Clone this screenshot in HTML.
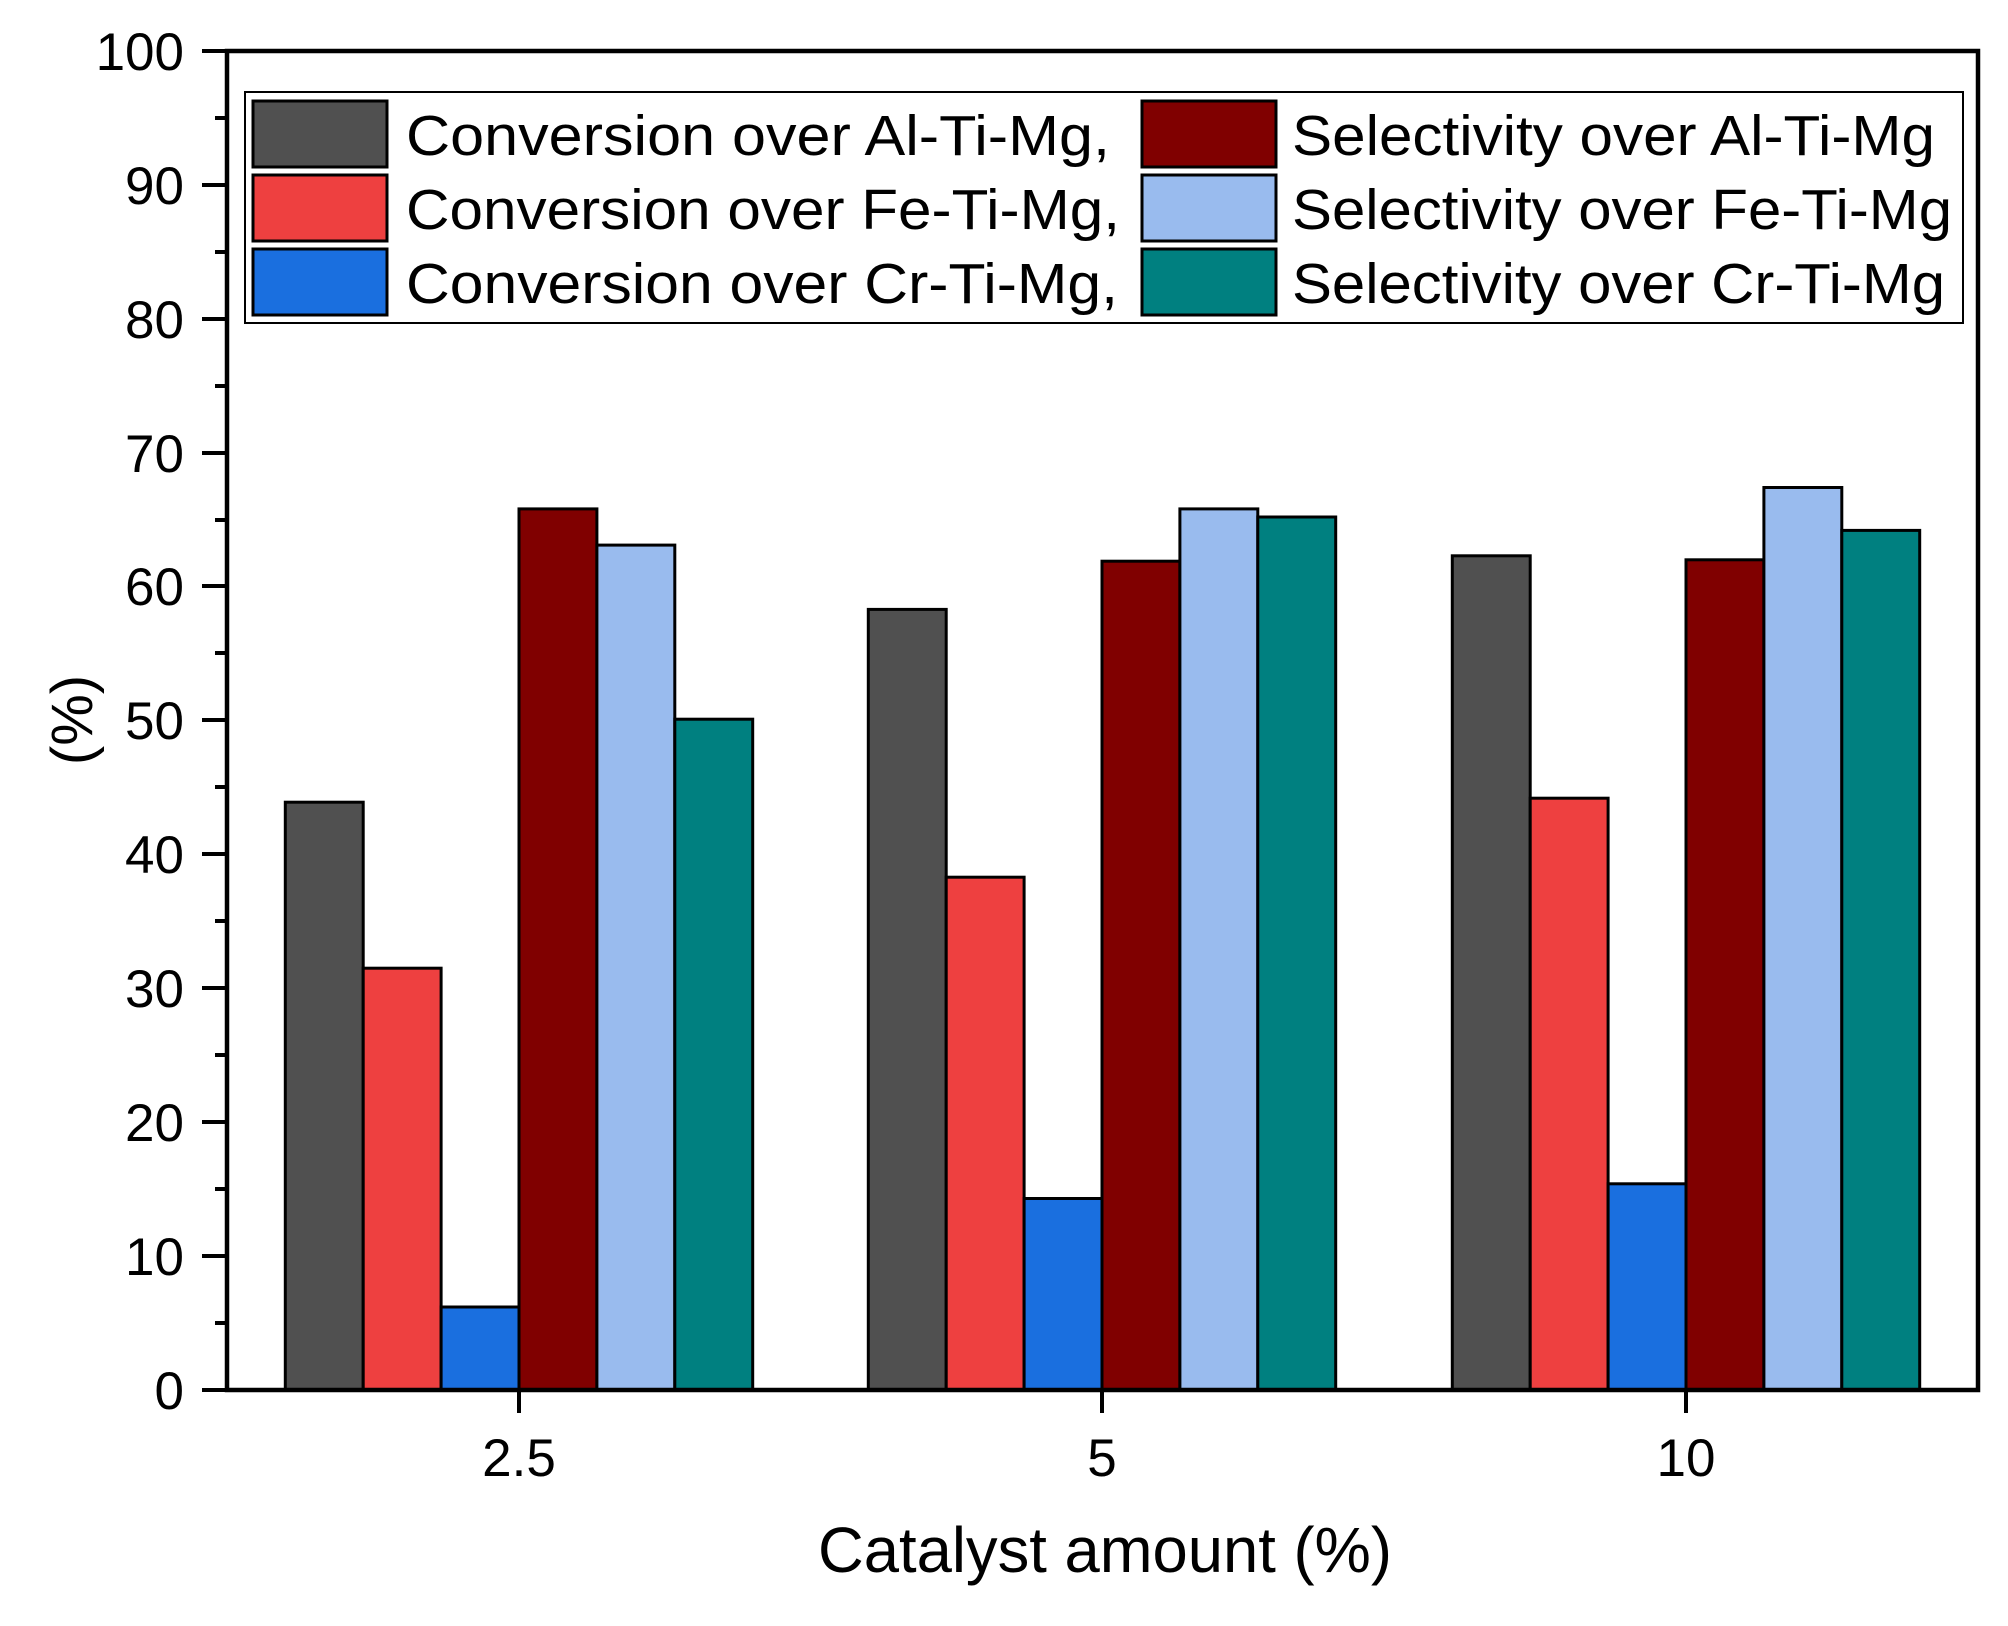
<!DOCTYPE html>
<html><head><meta charset="utf-8"><style>html,body{margin:0;padding:0;background:#fff}svg{display:block}</style></head>
<body>
<svg width="2008" height="1626" viewBox="0 0 2008 1626" xmlns="http://www.w3.org/2000/svg" font-family="'Liberation Sans', Arial, sans-serif">
<rect width="2008" height="1626" fill="#fff"/>
<g stroke="#000" stroke-width="3">
<rect x="285.3" y="802.2" width="77.9" height="587.8" fill="#505050"/>
<rect x="363.2" y="968.2" width="77.9" height="421.8" fill="#EE4040"/>
<rect x="441.1" y="1307.0" width="77.9" height="83.0" fill="#1A6FDF"/>
<rect x="519.0" y="508.9" width="77.9" height="881.1" fill="#800000"/>
<rect x="596.9" y="545.1" width="77.9" height="844.9" fill="#99BBEE"/>
<rect x="674.8" y="719.2" width="77.9" height="670.8" fill="#008080"/>
<rect x="868.3" y="609.4" width="77.9" height="780.6" fill="#505050"/>
<rect x="946.2" y="877.2" width="77.9" height="512.8" fill="#EE4040"/>
<rect x="1024.1" y="1198.5" width="77.9" height="191.5" fill="#1A6FDF"/>
<rect x="1102.0" y="561.2" width="77.9" height="828.8" fill="#800000"/>
<rect x="1179.9" y="508.9" width="77.9" height="881.1" fill="#99BBEE"/>
<rect x="1257.8" y="517.0" width="77.9" height="873.0" fill="#008080"/>
<rect x="1452.3" y="555.8" width="77.9" height="834.2" fill="#505050"/>
<rect x="1530.2" y="798.2" width="77.9" height="591.8" fill="#EE4040"/>
<rect x="1608.1" y="1183.8" width="77.9" height="206.2" fill="#1A6FDF"/>
<rect x="1686.0" y="559.8" width="77.9" height="830.2" fill="#800000"/>
<rect x="1763.9" y="487.5" width="77.9" height="902.5" fill="#99BBEE"/>
<rect x="1841.8" y="530.4" width="77.9" height="859.6" fill="#008080"/>
</g>
<g stroke="#000" stroke-width="4.5" fill="none">
<rect x="227" y="51" width="1751" height="1339"/>
</g>
<g stroke="#000" stroke-width="4">
<line x1="202" y1="51" x2="227" y2="51"/><line x1="202" y1="185" x2="227" y2="185"/><line x1="202" y1="319" x2="227" y2="319"/><line x1="202" y1="453" x2="227" y2="453"/><line x1="202" y1="586" x2="227" y2="586"/><line x1="202" y1="720" x2="227" y2="720"/><line x1="202" y1="854" x2="227" y2="854"/><line x1="202" y1="988" x2="227" y2="988"/><line x1="202" y1="1122" x2="227" y2="1122"/><line x1="202" y1="1256" x2="227" y2="1256"/><line x1="202" y1="1390" x2="227" y2="1390"/>
<line x1="215" y1="118" x2="227" y2="118"/><line x1="215" y1="252" x2="227" y2="252"/><line x1="215" y1="386" x2="227" y2="386"/><line x1="215" y1="520" x2="227" y2="520"/><line x1="215" y1="653" x2="227" y2="653"/><line x1="215" y1="787" x2="227" y2="787"/><line x1="215" y1="921" x2="227" y2="921"/><line x1="215" y1="1055" x2="227" y2="1055"/><line x1="215" y1="1189" x2="227" y2="1189"/><line x1="215" y1="1323" x2="227" y2="1323"/>
<line x1="519" y1="1390" x2="519" y2="1413"/><line x1="1102" y1="1390" x2="1102" y2="1413"/><line x1="1686" y1="1390" x2="1686" y2="1413"/>
</g>
<g font-size="53" text-anchor="end" fill="#000">
<text x="184" y="70">100</text><text x="184" y="204">90</text><text x="184" y="338">80</text><text x="184" y="472">70</text><text x="184" y="605">60</text><text x="184" y="739">50</text><text x="184" y="873">40</text><text x="184" y="1007">30</text><text x="184" y="1141">20</text><text x="184" y="1275">10</text><text x="184" y="1409">0</text>
</g>
<g font-size="53" text-anchor="middle" fill="#000">
<text x="519" y="1476">2.5</text><text x="1102" y="1476">5</text><text x="1686" y="1476">10</text>
</g>
<text x="1105" y="1572" font-size="64" text-anchor="middle" textLength="574" lengthAdjust="spacingAndGlyphs">Catalyst amount (%)</text>
<text transform="translate(92,720) rotate(-90)" font-size="58" text-anchor="middle">(%)</text>
<rect x="245" y="92" width="1718" height="231" fill="#fff" stroke="#000" stroke-width="2"/>
<g stroke="#000" stroke-width="3">
<rect x="253" y="101" width="134" height="66" fill="#505050"/>
<rect x="253" y="175" width="134" height="66" fill="#EE4040"/>
<rect x="253" y="249" width="134" height="66" fill="#1A6FDF"/>
<rect x="1142" y="101" width="134" height="66" fill="#800000"/>
<rect x="1142" y="175" width="134" height="66" fill="#99BBEE"/>
<rect x="1142" y="249" width="134" height="66" fill="#008080"/>
</g>
<g font-size="57" fill="#000">
<text x="406" y="155" textLength="704" lengthAdjust="spacingAndGlyphs">Conversion over Al-Ti-Mg,</text>
<text x="406" y="229" textLength="714" lengthAdjust="spacingAndGlyphs">Conversion over Fe-Ti-Mg,</text>
<text x="406" y="303" textLength="712" lengthAdjust="spacingAndGlyphs">Conversion over Cr-Ti-Mg,</text>
<text x="1292" y="155" textLength="643" lengthAdjust="spacingAndGlyphs">Selectivity over Al-Ti-Mg</text>
<text x="1292" y="229" textLength="660" lengthAdjust="spacingAndGlyphs">Selectivity over Fe-Ti-Mg</text>
<text x="1292" y="303" textLength="653" lengthAdjust="spacingAndGlyphs">Selectivity over Cr-Ti-Mg</text>
</g>
</svg>
</body></html>
